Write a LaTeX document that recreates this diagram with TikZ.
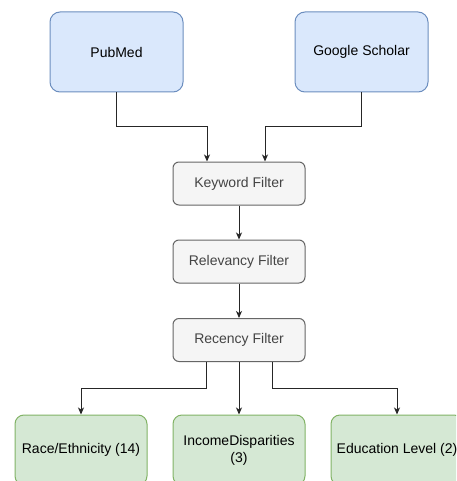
\documentclass[tikz,border=0pt]{standalone}
\usepackage{fontspec}
\setmainfont{Liberation Sans}
\usetikzlibrary{arrows.meta}
\definecolor{blueF}{HTML}{DAE8FC}
\definecolor{blueD}{HTML}{6C8EBF}
\definecolor{grayF}{HTML}{F5F5F5}
\definecolor{grayD}{HTML}{666666}
\definecolor{grayT}{HTML}{444444}
\definecolor{greenF}{HTML}{D5E8D4}
\definecolor{greenD}{HTML}{82B366}
\definecolor{lineC}{HTML}{262626}
\begin{document}
\begin{tikzpicture}[x=1pt,y=-1pt,
  every node/.style={font=\fontsize{14}{17}\selectfont, inner sep=0pt, align=center},
  srcbox/.style={draw=blueD, fill=blueF, line width=1pt, rounded corners=10pt, minimum width=133pt, minimum height=80pt},
  filtbox/.style={draw=grayD, fill=grayF, line width=1pt, rounded corners=6pt, minimum width=132pt, minimum height=43pt, text=grayT},
  resbox/.style={draw=greenD, fill=greenF, line width=1pt, rounded corners=9pt, minimum width=132pt, minimum height=70pt},
  arr/.style={draw=lineC, line width=1pt, -{Stealth[length=7pt,width=6pt,inset=2pt]}}
]
\clip (0,0) rectangle (456,481);
\fill[white] (0,0) rectangle (456,481);

\node[srcbox] (pub) at (116.5,52) {PubMed};
\node[srcbox] (gs) at (361.5,52) {Google Scholar};

\node[filtbox] (kw) at (239,183.5) {Keyword Filter};
\node[filtbox] (rel) at (239,261.5) {Relevancy Filter};
\node[filtbox] (rec) at (239,340) {Recency Filter};

\node[resbox] (race) at (81,450) {Race/Ethnicity (14)};
\node[resbox] (inc) at (239,450) {IncomeDisparities\\(3)};
\node[resbox] (edu) at (397,450) {Education Level (2)};

\draw[arr] (pub.south) -- ++(0,34) -| ([xshift=-32pt]kw.north);
\draw[arr] (gs.south) -- ++(0,34) -| ([xshift=26pt]kw.north);
\draw[arr] (kw.south) -- (rel.north);
\draw[arr] (rel.south) -- (rec.north);
\draw[arr] ([xshift=-33pt]rec.south) |- ++(0,26) -| (race.north);
\draw[arr] (rec.south) -- (inc.north);
\draw[arr] ([xshift=33pt]rec.south) -- ++(0,26) -| (edu.north);
\end{tikzpicture}
\end{document}
